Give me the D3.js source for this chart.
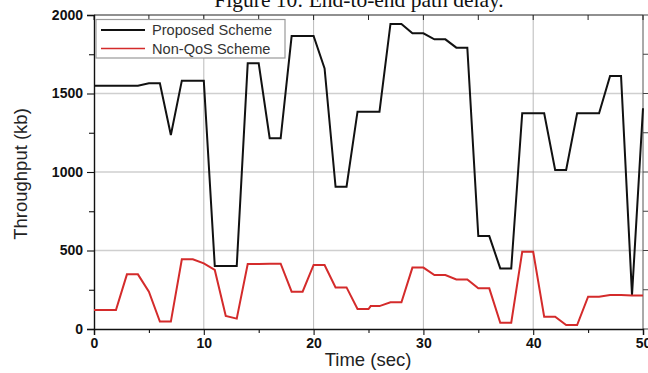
<!DOCTYPE html>
<html><head><meta charset="utf-8">
<script src="https://cdn.jsdelivr.net/npm/d3@7"></script>
<style>body{margin:0;background:#fff;overflow:hidden}</style>
</head><body>
<svg id="c" width="648" height="373"></svg>
<script>
const times = [0,1,2,3,4,5,6,7,8,9,10,11,12,13,14,15,16,17,18,19,20,21,22,23,24,25,25.2,26,27,28,29,30,31,32,33,34,35,36,37,38,39,40,41,42,43,44,45,46,47,48,49,50];
const proposed = [1550,1550,1550,1550,1550,1565,1565,1236,1582,1582,1582,401,401,401,1692,1692,1215,1215,1866,1866,1866,1660,906,906,1384,1384,1384,1384,1943,1943,1883,1883,1845,1845,1792,1792,592,592,386,386,1374,1374,1374,1013,1013,1374,1374,1374,1611,1611,217,1406];
const nonQoS = [121,121,121,348,348,238,47,47,444,444,418,376,83,66,414,414,416,416,238,238,408,408,265,265,127,127,146,146,170,170,391,391,344,344,316,316,259,259,40,40,492,492,78,78,25,25,206,206,217,217,213,213];
const seriesNames = ["Proposed Scheme","Non-QoS Scheme"];
const seriesColors = ["#111111","#d42b2b"];
const xTicks = [0,10,20,30,40,50];
const xMinor = [5,15,25,35,45];
const yTicks = [0,500,1000,1500,2000];
const yMinor = [250,750,1250,1750];
const title = "Figure 10: End-to-end path delay.";
const xTitle = "Time (sec)";
const yTitle = "Throughput (kb)";

const svg = d3.select("#c");
const x = d3.scaleLinear().domain([0,50]).range([94,643]);
const y = d3.scaleLinear().domain([0,2000]).range([329,15]);

// figure caption (clipped at top)
svg.append("text").attr("x",359).attr("y",7).attr("text-anchor","middle")
  .attr("font-family","'Liberation Serif','Times New Roman',serif").attr("font-size",21.5)
  .attr("fill","#111").text(title);

// gridlines
svg.append("g").selectAll("line").data(yTicks.filter(d=>d>0&&d<2000)).join("line")
  .attr("x1",x(0)).attr("x2",x(50)).attr("y1",d=>y(d)).attr("y2",d=>y(d))
  .attr("stroke","#cfcfcf").attr("stroke-width",1.4);
svg.append("g").selectAll("line").data(xTicks.filter(d=>d>0&&d<50)).join("line")
  .attr("x1",d=>x(d)).attr("x2",d=>x(d)).attr("y1",y(0)).attr("y2",y(2000))
  .attr("stroke","#a8a8a8").attr("stroke-width",0.8);

// frame top and right
svg.append("line").attr("x1",x(0)).attr("x2",x(50)).attr("y1",y(2000)).attr("y2",y(2000)).attr("stroke","#222").attr("stroke-width",1.2);
svg.append("line").attr("x1",x(50)).attr("x2",x(50)).attr("y1",y(0)).attr("y2",y(2000)).attr("stroke","#555").attr("stroke-width",1);
// top ticks (inward)
svg.append("g").selectAll("line").data(xTicks.concat(xMinor)).join("line")
  .attr("x1",d=>x(d)).attr("x2",d=>x(d)).attr("y1",y(2000)).attr("y2",y(2000)+5)
  .attr("stroke","#222").attr("stroke-width",1);
// right ticks (outward)
svg.append("g").selectAll("line").data(yTicks.concat(yMinor)).join("line")
  .attr("x1",x(50)).attr("x2",x(50)+5).attr("y1",d=>y(d)).attr("y2",d=>y(d))
  .attr("stroke","#444").attr("stroke-width",1);

// axes
const fontTick = "'Liberation Sans',Arial,sans-serif";
svg.append("g").attr("transform",`translate(0,${y(0)})`)
  .call(d3.axisBottom(x).tickValues(xTicks).tickSize(6).tickPadding(3).tickFormat(d3.format("d")));
svg.append("g").attr("transform",`translate(0,${y(0)})`)
  .call(d3.axisBottom(x).tickValues(xMinor).tickSize(4).tickFormat(""))
  .select(".domain").remove();
svg.append("g").attr("transform",`translate(${x(0)},0)`)
  .call(d3.axisLeft(y).tickValues(yTicks).tickSize(7).tickPadding(4).tickFormat(d3.format("d")));
svg.append("g").attr("transform",`translate(${x(0)},0)`)
  .call(d3.axisLeft(y).tickValues(yMinor).tickSize(5).tickFormat(""))
  .select(".domain").remove();
svg.selectAll(".domain").attr("stroke","#111").attr("stroke-width",1.4);
svg.selectAll(".tick line").attr("stroke","#111").attr("stroke-width",1.1);
svg.selectAll(".tick text").attr("font-family",fontTick).attr("font-size",14)
  .attr("font-weight","bold").attr("fill","#111");

// axis titles
svg.append("text").attr("x",368).attr("y",366).attr("text-anchor","middle")
  .attr("font-family",fontTick).attr("font-size",18.5).attr("fill","#222").text(xTitle);
svg.append("text").attr("transform","translate(27,174) rotate(-90)").attr("text-anchor","middle")
  .attr("font-family",fontTick).attr("font-size",18.5).attr("fill","#222").text(yTitle);

// lines
const lineGen = vals => d3.line().x((d,i)=>x(times[i])).y(d=>y(d))(vals);
[proposed, nonQoS].forEach((vals,k)=>{
  svg.append("path").attr("d",lineGen(vals)).attr("fill","none")
    .attr("stroke",seriesColors[k]).attr("stroke-width",2).attr("stroke-linejoin","miter");
});

// legend
const lg = svg.append("g");
lg.append("rect").attr("x",96).attr("y",19.5).attr("width",189).attr("height",38.5)
  .attr("fill","#fff").attr("stroke","#999").attr("stroke-width",1.2);
seriesNames.forEach((n,k)=>{
  const yy = 30 + k*18.5;
  lg.append("line").attr("x1",101).attr("x2",145).attr("y1",yy).attr("y2",yy)
    .attr("stroke",seriesColors[k]).attr("stroke-width",k===0?2:1.3);
  lg.append("text").attr("x",152).attr("y",yy+5).attr("font-family",fontTick)
    .attr("font-size",14.6).attr("fill","#333").text(n);
});
</script>
</body></html>
